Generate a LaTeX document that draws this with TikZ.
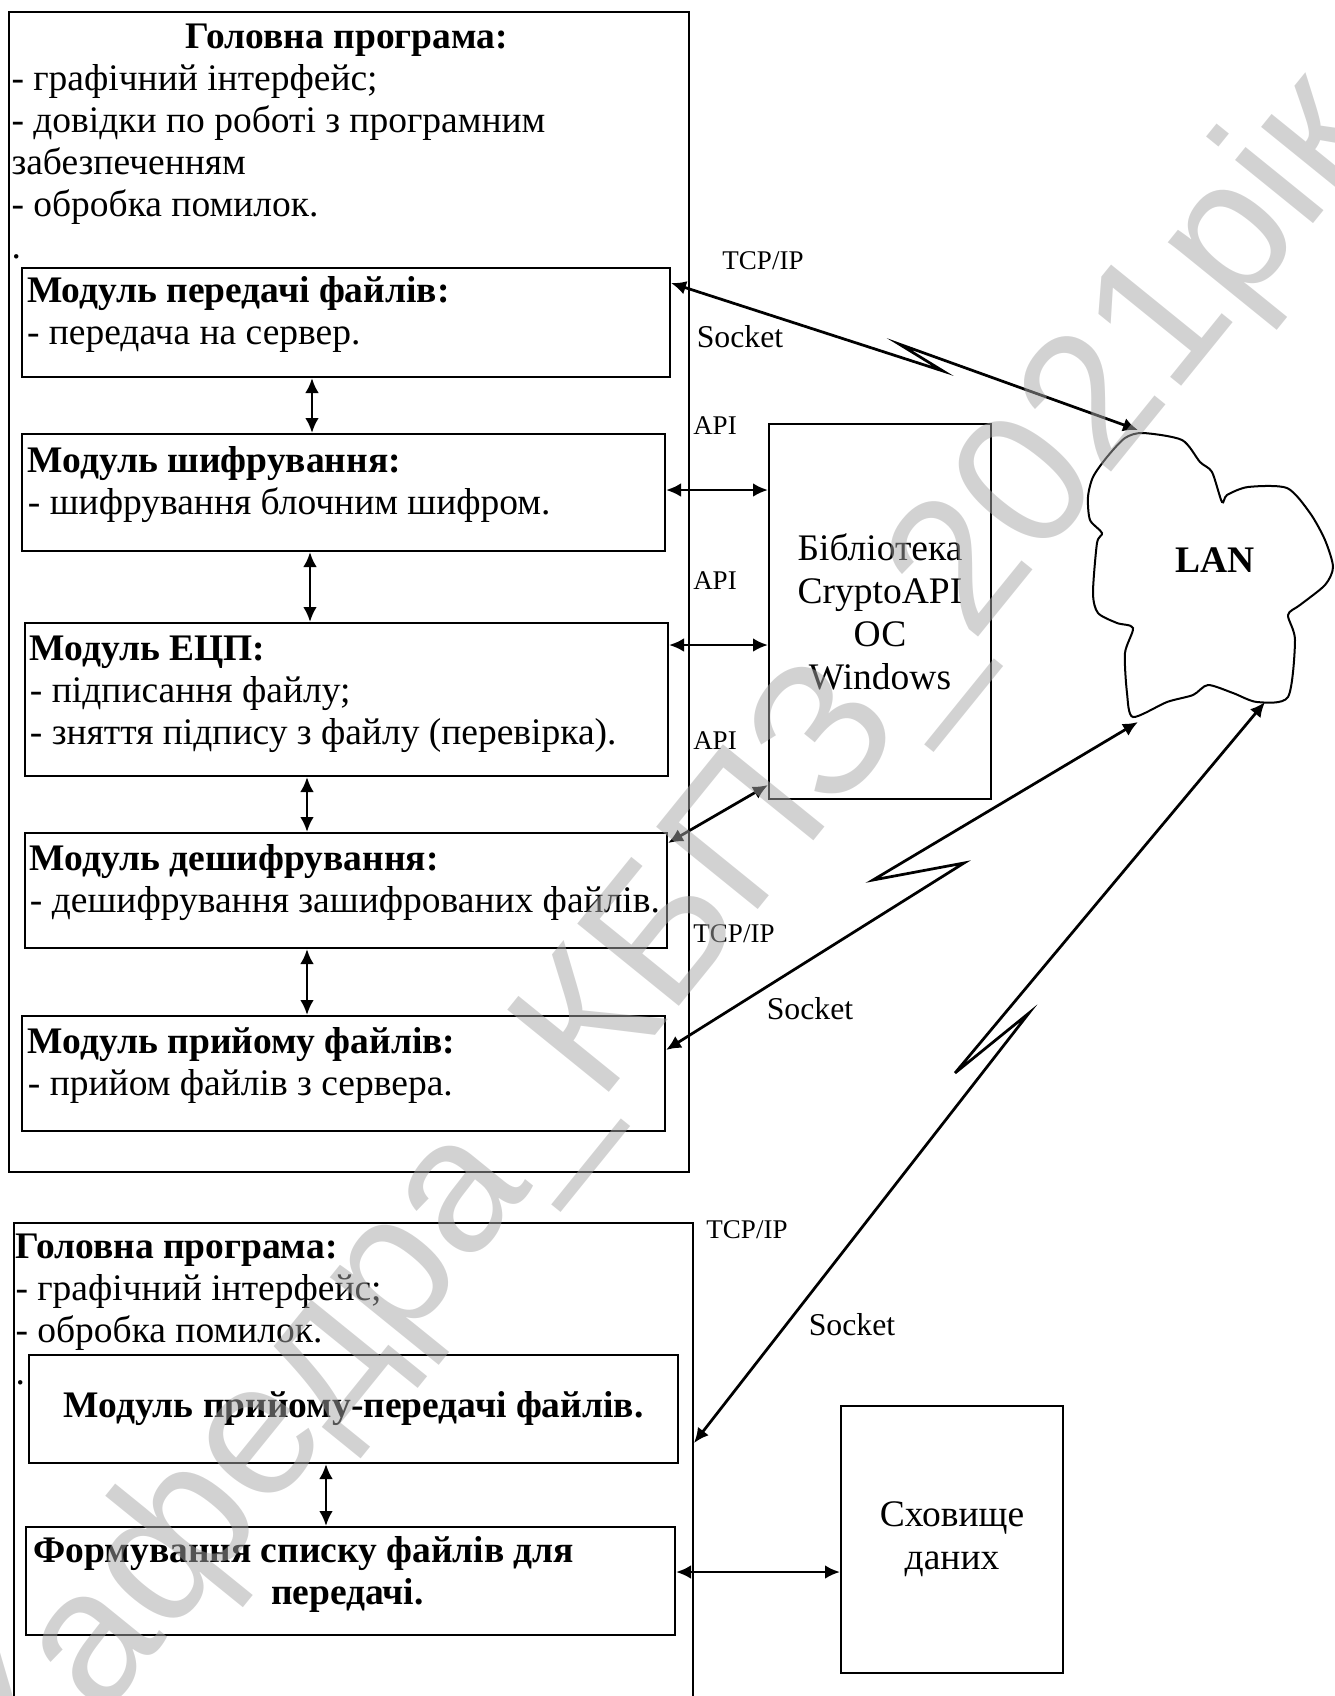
\documentclass[tikz,border=0pt]{standalone}
\usepackage{fontspec}
\setmainfont{Liberation Serif}
\newfontfamily\wmfont{Liberation Sans}
\usetikzlibrary{positioning,arrows.meta}

\begin{document}
\begin{tikzpicture}[x=0.4pt,y=-0.4pt,
    >={Latex[length=6pt,width=5.5pt]},
    box/.style={draw,line width=0.8pt,anchor=north west,inner sep=0,
      font=\fontsize{15}{17.2}\selectfont},
    txt/.style={inner sep=0,align=left,font=\fontsize{15}{16.8}\selectfont},
    btxt/.style={inner sep=0,align=left,font=\fontsize{15}{16.8}\selectfont\bfseries},
    lbl/.style={inner sep=0,font=\fontsize{10.8}{12}\selectfont},
    sock/.style={inner sep=0,font=\fontsize{12.7}{14}\selectfont},
    con/.style={<->,line width=1.1pt}]
    \useasboundingbox (0,0) rectangle (1335,1696);
    % клієнтська програма
    \node[box,minimum width=272pt,minimum height=464pt] (main1) at (8,11) {};
    \node[btxt,anchor=base] (title1) at (347,48) {Головна програма:};
    \node[txt,below right=19.8pt and 1.2pt of main1.north west] (list1)
      {\strut- графічний інтерфейс;\\- довідки по роботі з програмним\\забезпеченням\\- обробка помилок.\\.};
    % модулі клієнта
    \node[box,minimum width=259.2pt,minimum height=43.6pt] (mA) at (21,267) {};
    \node[txt,below right=2.3pt and 2.2pt of mA.north west]
      {\strut\textbf{Модуль передачі файлів:}\\- передача на сервер.};
    \node[box,minimum width=257.2pt,minimum height=46.8pt] (mB) at (21,433) {};
    \node[txt,below right=3.8pt and 2.6pt of mB.north west]
      {\strut\textbf{Модуль шифрування:}\\- шифрування блочним шифром.};
    \node[box,minimum width=257.2pt,minimum height=61.2pt] (mC) at (24,622) {};
    \node[txt,below right=3.4pt and 2.2pt of mC.north west]
      {\strut\textbf{Модуль ЕЦП:}\\- підписання файлу;\\- зняття підпису з файлу (перевірка).};
    \node[box,minimum width=256.8pt,minimum height=46pt] (mD) at (24,832) {};
    \node[txt,below right=3.4pt and 2.2pt of mD.north west]
      {\strut\textbf{Модуль дешифрування:}\\- дешифрування зашифрованих файлів.};
    \node[box,minimum width=257.2pt,minimum height=46pt] (mE) at (21,1015) {};
    \node[txt,below right=3.4pt and 2.6pt of mE.north west]
      {\strut\textbf{Модуль прийому файлів:}\\- прийом файлів з сервера.};
    % бібліотека
    \node[box,minimum width=88.8pt,minimum height=150pt,align=center] (lib) at (768,423)
      {Бібліотека\\CryptoAPI\\ОС\\Windows};
    % серверна програма
    \node[box,minimum width=271.6pt,minimum height=220pt] (main2) at (13,1222) {};
    \node[txt,below right=2.6pt and 0.8pt of main2.north west] (list2)
      {\strut\textbf{Головна програма:}\\- графічний інтерфейс;\\- обробка помилок.\\.};
    \node[box,minimum width=259.6pt,minimum height=43.2pt,font=\fontsize{15}{16.8}\selectfont\bfseries] (mF) at (28,1354)
      {Модуль прийому-передачі файлів.};
    \node[box,minimum width=259.6pt,minimum height=43.2pt] (mG) at (25,1526) {};
    \node[btxt,below right=2.6pt and 3.2pt of mG.north west]
      {\strut Формування списку файлів для\\\hspace*{95pt}передачі.};
    \node[box,minimum width=88.8pt,minimum height=106.8pt,align=center] (store) at (840,1405)
      {Сховище\\даних};
    % мережа
    \draw[line width=0.8pt] plot[smooth cycle,tension=0.45] coordinates {
      (1125,438) (1143,433) (1182,440) (1200,462) (1212,472) (1222,502) (1227,495)
      (1248,487) (1287,488) (1310,513) (1325,540) (1333,567) (1325,585) (1300,605)
      (1288,615) (1295,640) (1288,697) (1257,702) (1233,693) (1208,685) (1193,695)
      (1167,702) (1133,717) (1127,693) (1125,653) (1133,628) (1117,623) (1098,613)
      (1093,593) (1097,543) (1102,533) (1090,520) (1088,497) (1093,477) (1107,457)};
    \node[btxt] (lan) at (1215,560) {LAN};
    \coordinate (lanA) at (1138,430);
    \coordinate (lanE) at (1138,722);
    \coordinate (lanF) at (1265,702);
    % підписи
    \node[lbl] (tcp1) at (763,261) {TCP/IP};
    \node[sock] (sock1) at (740,337) {Socket};
    \node[lbl] (api1) at (715,426) {API};
    \node[lbl] (api2) at (715,581) {API};
    \node[lbl] (api3) at (715,741) {API};
    \node[lbl] (tcp2) at (734,934) {TCP/IP};
    \node[sock] (sock2) at (810,1009) {Socket};
    \node[lbl] (tcp3) at (747,1230) {TCP/IP};
    \node[sock] (sock3) at (852,1325) {Socket};
    % зв'язки між модулями
    \draw[con] (mA.south -| 312,0) -- (mB.north -| 312,0);
    \draw[con] (mB.south -| 310,0) -- (mC.north -| 310,0);
    \draw[con] (mC.south -| 307,0) -- (mD.north -| 307,0);
    \draw[con] (mD.south -| 307,0) -- (mE.north -| 307,0);
    \draw[con] (mF.south -| 326,0) -- (mG.north -| 326,0);
    % API
    \draw[con] (mB.east |- 0,490) -- (lib.west |- 0,490);
    \draw[con] (mC.east |- 0,645) -- (lib.west |- 0,645);
    \draw[con] (lib.west |- 0,785) -- (mD.east |- 0,843);
    \draw[con] (mG.east |- 0,1572) -- (store.west |- 0,1572);
    % TCP/IP з'єднання
    \draw[con] (mA.east |- 0,283) -- (943,371) -- (899,344) -- (lanA);
    \draw[con] (mE.east |- 0,1050) -- (964,863) -- (873,880) -- (lanE);
    \draw[con] (main2.east |- 0,1443) -- (1029,1013) -- (955,1073) -- (lanF);
    % водяний знак
    \node[font=\wmfont\fontsize{76}{80}\selectfont,text=black!35,opacity=0.5,rotate=51] (wm)
      at (670,940) {Кафедра\_КБПЗ\_2021рік};
\end{tikzpicture}
\end{document}
